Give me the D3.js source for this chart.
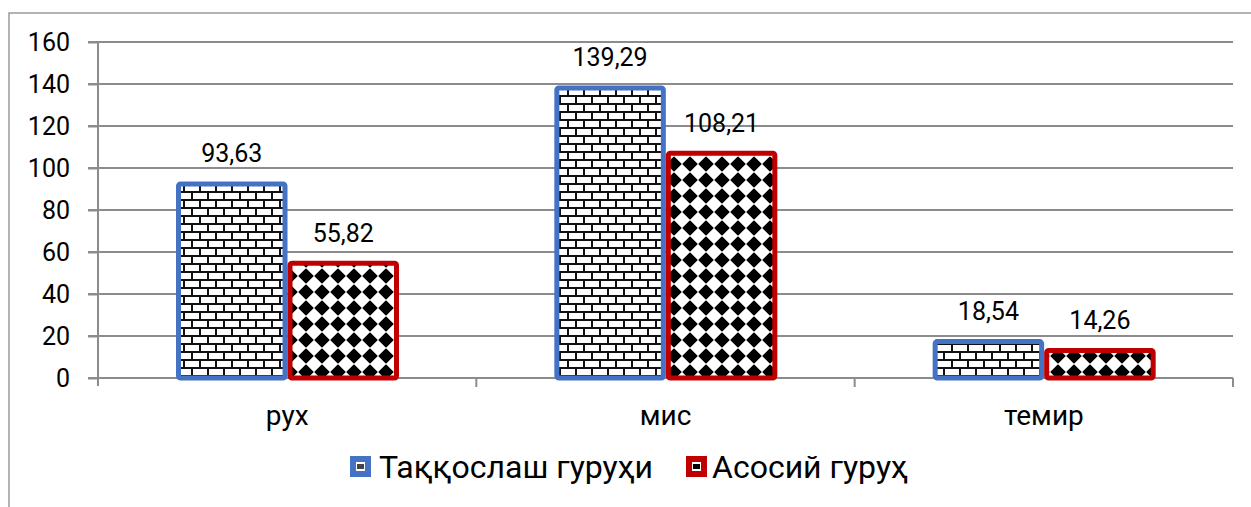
<!DOCTYPE html>
<html><head><meta charset="utf-8">
<script src="https://cdn.jsdelivr.net/npm/d3@7"></script>
<style>
html,body{margin:0;padding:0;background:#fff;}
text{font-family:Roboto,"Noto Sans",sans-serif;fill:#000;}
</style></head>
<body>
<svg id="c" width="1251" height="507"></svg>
<script>
const categories = ["рух", "мис", "темир"];
const seriesNames = ["Таққослаш гуруҳи", "Асосий гуруҳ"];
const comparisonValues = [93.63, 139.29, 18.54];
const mainValues = [55.82, 108.21, 14.26];
const valueLabels = [["93,63","139,29","18,54"],["55,82","108,21","14,26"]];
const yTicks = [0, 20, 40, 60, 80, 100, 120, 140, 160];

const colors = ["#4472C4", "#C00000"];
const svg = d3.select("#c");
const defs = svg.append("defs");

// brick pattern
const pb = defs.append("pattern").attr("id","brick").attr("patternUnits","userSpaceOnUse")
  .attr("width",16).attr("height",16);
pb.append("rect").attr("width",16).attr("height",16).attr("fill","#111");
[[1,1,14,6],[9,9,14,6],[-7,9,14,6]].forEach(([x,y,w,h])=>
  pb.append("rect").attr("x",x).attr("y",y).attr("width",w).attr("height",h).attr("fill","#fff"));
// checker diamond pattern
const pc = defs.append("pattern").attr("id","checker").attr("patternUnits","userSpaceOnUse")
  .attr("width",16).attr("height",16).attr("x",2).attr("y",4);
pc.append("rect").attr("width",16).attr("height",16).attr("fill","#fff");
const dia = (cx,cy,h)=>`M${cx-h},${cy}L${cx},${cy-h}L${cx+h},${cy}L${cx},${cy+h}Z`;
[[0,0],[16,0],[0,16],[16,16]].forEach(([x,y])=>
  pc.append("path").attr("d",dia(x,y,6.8)).attr("fill","#000")
    .attr("stroke","#000").attr("stroke-width",1.5).attr("stroke-linejoin","round"));
const patterns = ["url(#brick)","url(#checker)"];

// outer border
svg.append("rect").attr("x",9).attr("y",13).attr("width",1260).attr("height",520)
  .attr("fill","none").attr("stroke","#9a9a9a").attr("stroke-width",1.5);

const x0 = 98, x1 = 1233;
const y = d3.scaleLinear().domain([0,160]).range([378,42]);
const x = d3.scaleBand().domain(categories).range([x0,x1]).paddingInner(0).paddingOuter(0);
const xs = d3.scaleBand().domain([0,1]).range([78,301]);

// gridlines
const gridG = svg.append("g");
gridG.selectAll("line").data(yTicks).join("line")
  .attr("x1",88).attr("x2",x1).attr("y1",d=>y(d)).attr("y2",d=>y(d))
  .attr("stroke","#8c8c8c").attr("stroke-width",2);

// y axis
const yAxis = svg.append("g").attr("transform",`translate(${x0},0)`)
  .call(d3.axisLeft(y).tickValues(yTicks).tickSize(10).tickPadding(18));
yAxis.select(".domain").attr("stroke","#8c8c8c").attr("stroke-width",2)
  .attr("d",`M0,${y(160)}V${y(0)+8}`);
yAxis.selectAll(".tick line").attr("stroke","#8c8c8c").attr("stroke-width",2);
yAxis.selectAll(".tick text").attr("font-size",25).attr("font-family","Roboto").attr("fill","#000");

// x axis
const xAxis = svg.append("g").attr("transform",`translate(0,${y(0)})`)
  .call(d3.axisBottom(x).tickSize(0).tickPadding(27));
xAxis.select(".domain").attr("stroke","#8c8c8c").attr("stroke-width",2)
  .attr("d",`M${x0},0H${x1}`);
xAxis.selectAll(".tick text").attr("font-size",28).attr("font-family","Roboto").attr("fill","#000");
// category boundary ticks
svg.append("g").selectAll("line").data(categories).join("line")
  .attr("x1",d=>x(d)+x.bandwidth()).attr("x2",d=>x(d)+x.bandwidth())
  .attr("y1",y(0)).attr("y2",y(0)+9).attr("stroke","#8c8c8c").attr("stroke-width",2);

// bars
const series = [comparisonValues, mainValues];
const sw = 5;
series.forEach((vals,si)=>{
  const g = svg.append("g");
  g.selectAll("rect").data(vals).join("rect")
    .attr("x",(d,i)=>x(categories[i])+xs(si)+sw/2)
    .attr("y",d=>y(d)+sw/2)
    .attr("width",xs.bandwidth()-sw)
    .attr("height",d=>y(0)-y(d)-sw/2)
    .attr("rx",2)
    .attr("fill",patterns[si]).attr("stroke",colors[si]).attr("stroke-width",sw);
  g.selectAll("text").data(vals).join("text")
    .attr("x",(d,i)=>x(categories[i])+xs(si)+xs.bandwidth()/2)
    .attr("y",d=>y(d)-19)
    .attr("text-anchor","middle").attr("font-size",25)
    .text((d,i)=>valueLabels[si][i]);
});

// legend
const leg = svg.append("g");
const legItems = [{x:350, tx:379},{x:686, tx:712}];
legItems.forEach((it,i)=>{
  leg.append("rect").attr("x",it.x).attr("y",456).attr("width",21).attr("height",21)
    .attr("fill",colors[i]);
  leg.append("rect").attr("x",it.x+6).attr("y",462).attr("width",9).attr("height",9)
    .attr("fill","#fff");
  leg.append("rect").attr("x",it.x+7).attr("y",464).attr("width",7).attr("height",5)
    .attr("fill", i===0 ? "#444" : "#000");
  leg.append("text").attr("x",it.tx).attr("y",478).attr("font-size",32).text(seriesNames[i]);
});
</script>
</body></html>
